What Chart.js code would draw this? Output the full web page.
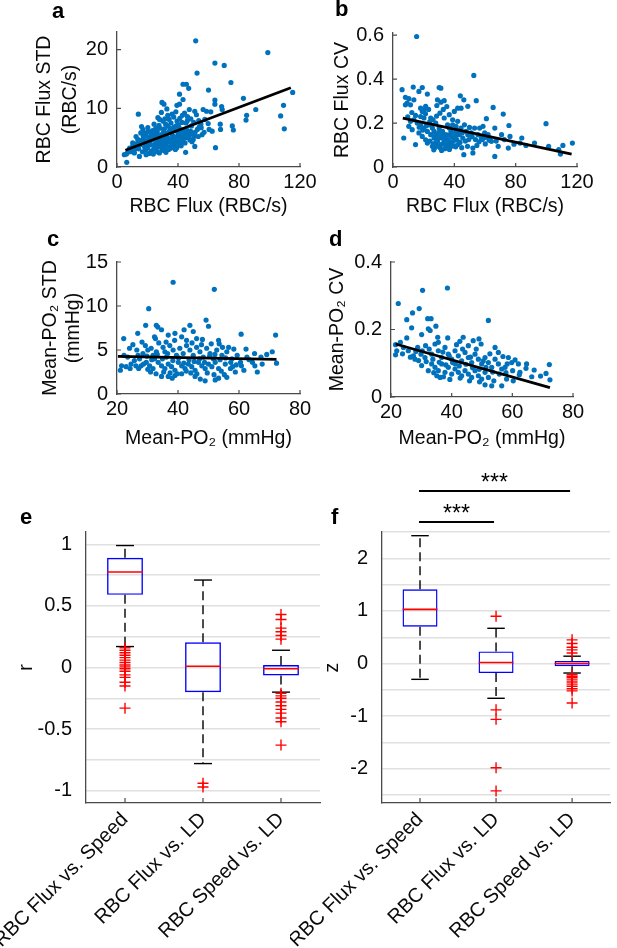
<!DOCTYPE html>
<html>
<head>
<meta charset="utf-8">
<script src="https://cdn.jsdelivr.net/npm/chart.js@4.4.0/dist/chart.umd.min.js"></script>
<style>
  html, body { margin: 0; padding: 0; background: #fff; }
  #fig { position: relative; width: 617px; height: 948px; overflow: hidden; background: #fff; }
  #fig canvas { position: absolute; }
  .lab { position: absolute; font: bold 22px 'Liberation Sans', Arial, sans-serif; line-height: 24px; color: #000; }
</style>
</head>
<body>
<div id="fig">
  <canvas id="panelA" width="330" height="222" style="left:0;top:0"></canvas>
  <canvas id="panelB" width="307" height="222" style="left:310px;top:0"></canvas>
  <canvas id="panelC" width="330" height="225" style="left:0;top:230px"></canvas>
  <canvas id="panelD" width="307" height="225" style="left:310px;top:230px"></canvas>
  <canvas id="panelE" width="330" height="478" style="left:0;top:470px"></canvas>
  <canvas id="panelF" width="327" height="488" style="left:290px;top:460px"></canvas>
  <div class="lab" style="left:52px;top:-1px">a</div>
  <div class="lab" style="left:335px;top:-3px">b</div>
  <div class="lab" style="left:47px;top:227px">c</div>
  <div class="lab" style="left:329px;top:227px">d</div>
  <div class="lab" style="left:20px;top:505px">e</div>
  <div class="lab" style="left:331px;top:505px">f</div>
</div>
<script>
const FONT = "'Liberation Sans', Arial, 'DejaVu Sans', sans-serif";
const BLUE = '#0072BD';
const AXIS = '#4a4a4a';

// a: RBC flux vs. RBC flux STD
const fluxStdPts = [
  [51.6,21.5],[98.9,19.5],[64.2,17.7],[70.3,17.3],[52.5,16.0],[74.7,14.4],[43.3,14.1],[45.5,14.1],[47.0,13.4],[115.2,12.7],
  [60.0,13.1],[82.9,11.7],[64.2,11.4],[91.0,9.8],[109.2,10.5],[107.3,8.7],[109.7,6.5],[85.0,8.8],[84.6,8.0],[75.6,7.0],
  [76.3,6.3],[64.6,3.3],[51.0,3.5],[45.0,2.5],[6.4,0.8],[14.0,9.0],[29.5,11.0],[30.8,10.7],[32.7,9.9],[41.0,10.7],
  [43.3,11.5],[41.0,12.4],[39.3,10.5],[51.0,9.5],[56.5,9.8],[58.7,9.5],[61.5,9.4],[68.6,10.3],[69.0,9.8],[64.2,10.7],
  [57.6,8.1],[59.8,7.4],[60.4,6.4],[62.4,6.1],[67.7,7.3],[67.9,6.4],[48.4,8.2],[46.2,8.6],[34.5,6.1],[26.8,8.4],
  [27.9,8.1],[20.2,6.7],[17.0,6.4],[13.6,4.7],[10.3,4.1],[8.1,3.0],[4.8,2.1],[11.4,2.4],[14.7,1.8],[19.1,2.1],
  [22.4,2.7],[25.7,3.0],[31.2,3.5],[35.6,4.1],[37.8,4.4],[40.0,5.3],[42.2,6.1],[45.5,6.4],[48.8,7.0],[52.7,6.4],
  [55.0,7.3],[55.8,5.5],[50.0,4.7],[46.6,5.3],[20.3,4.5],[22.1,3.8],[23.6,5.2],[25.2,4.0],[26.4,6.0],[27.3,3.5],
  [28.1,4.8],[29.2,5.5],[30.4,4.2],[31.1,6.5],[32.3,3.9],[33.2,5.0],[34.1,4.4],[35.3,5.8],[36.2,3.6],[37.4,6.8],
  [38.1,5.1],[39.3,4.6],[40.2,7.2],[41.4,5.5],[42.3,4.9],[43.1,6.3],[44.2,5.7],[45.3,7.5],[33.4,7.0],[30.2,7.8],
  [28.4,6.6],[25.1,5.6],[23.3,6.2],[21.2,5.0],[19.4,4.2],[18.1,3.4],[17.2,5.3],[16.3,4.6],[15.1,3.8],[14.2,3.1],
  [13.1,4.0],[12.2,3.4],[11.1,2.8],[10.4,3.6],[9.2,2.6],[8.3,3.2],[7.1,2.5],[6.2,2.2],[35.2,3.2],[38.3,3.0],
  [40.4,4.0],[42.1,3.6],[26.2,2.6],[29.4,2.9],[32.1,2.5],[36.3,4.8],[34.2,6.0],[31.3,5.3],[27.2,4.6],[24.1,3.1],
  [22.3,2.6],[20.1,3.3],[37.2,8.5],[39.4,7.8],[36.1,9.0],[33.3,8.8],[31.4,8.2],[29.1,9.3],[35.4,7.5],[41.2,8.3],
  [44.3,9.2],[46.1,7.9],[48.2,6.1],[50.3,7.6],[52.1,8.9],[53.3,5.2],[55.2,6.7],[57.1,5.9],[47.3,5.0],[49.2,4.3],
  [24.3,7.3],[20.4,6.0],[18.2,5.8],[16.1,6.9],[28.3,3.9],[30.1,3.4],[33.1,4.3],[36.4,5.4],[38.2,6.2],[40.1,5.8],
  [43.2,4.7],[45.1,5.0],[12.5,5.2],[15.6,5.8],[17.8,4.1],[19.7,3.7],[21.6,4.3],[23.1,4.7],[24.8,3.6],[26.1,5.1],
  [27.8,5.3],[29.7,4.5],[31.8,4.7],[33.6,3.4],[35.9,4.4],[37.6,3.9],[39.8,4.9],[41.8,4.3],[43.7,5.2],[46.4,6.0],
  [48.6,5.6],[51.2,5.9],[53.9,6.8],[30.6,6.0],[32.7,5.7],[34.8,6.6],[36.7,6.2],[38.8,7.0],[40.7,6.7],[42.6,7.6],
  [27.5,7.1],[25.4,6.6],[22.6,5.6],[19.2,5.3],[17.5,4.8],[15.3,4.4],[13.4,3.6],[11.8,3.1],[9.8,2.9],[16.7,2.6],
  [18.8,2.9],[21.1,2.3],[23.8,2.2],[27.8,2.4],[30.9,2.8],[33.9,3.0],[37.1,3.5],[39.2,3.3],[41.9,4.6],[44.6,4.1],
  [47.8,4.6],[50.9,5.3],[34.2,8.1],[38.6,9.4],[42.9,8.8],[47.4,9.8],[53.6,7.9],[31.9,7.3],[26.3,4.2],[24.5,4.9],
  [29.8,3.7],[35.1,4.6]
];
const fluxStdFit = [[5.5, 2.86], [114, 13.5]];
const fluxXTicks = [0, 40, 80, 120];
const fluxStdYTicks = [0, 10, 20];

// b: RBC flux vs. RBC flux CV
const fluxCvPts = [
  [15.4,0.594],[52.7,0.417],[5.9,0.352],[13.2,0.364],[19.1,0.362],[30.1,0.362],[31.2,0.359],[16.9,0.344],[22.4,0.332],[8.1,0.317],
  [10.3,0.311],[11.4,0.283],[9.2,0.291],[8.1,0.283],[13.6,0.306],[18.0,0.268],[20.2,0.26],[21.3,0.276],[19.1,0.253],[29.0,0.306],
  [31.2,0.295],[33.4,0.302],[28.6,0.28],[43.9,0.324],[46.2,0.306],[54.3,0.302],[42.2,0.268],[44.4,0.268],[48.8,0.276],[65.3,0.271],
  [71.9,0.241],[60.9,0.22],[99.8,0.197],[75.6,0.189],[7.0,0.132],[14.7,0.102],[27.9,0.109],[22.4,0.109],[46.2,0.056],[66.4,0.048],
  [52.1,0.086],[52.1,0.064],[84.0,0.132],[82.9,0.109],[92.3,0.109],[101.5,0.094],[108.1,0.079],[110.8,0.098],[117.0,0.109],[109.2,0.059],
  [75.2,0.086],[68.6,0.094],[64.2,0.117],[57.6,0.132],[59.8,0.155],[66.4,0.177],[70.8,0.147],[76.3,0.139],[49.9,0.18],[51.0,0.155],
  [45.5,0.132],[42.2,0.102],[40.0,0.132],[37.8,0.162],[35.6,0.192],[33.4,0.223],[36.7,0.238],[40.0,0.253],[24.6,0.223],[23.5,0.192],
  [25.7,0.177],[26.8,0.162],[29.0,0.147],[31.2,0.132],[33.4,0.117],[35.6,0.124],[29.0,0.117],[26.8,0.132],[24.6,0.147],[22.4,0.162],
  [20.2,0.177],[18.0,0.192],[15.8,0.2],[13.6,0.215],[11.4,0.208],[10.3,0.185],[12.5,0.17],[16.9,0.155],[19.1,0.139],[21.3,0.124],
  [30.1,0.177],[32.3,0.162],[34.5,0.147],[36.7,0.177],[38.9,0.192],[41.1,0.162],[43.3,0.147],[44.4,0.177],[46.6,0.192],[47.7,0.162],
  [48.8,0.147],[53.2,0.177],[55.4,0.147],[56.5,0.177],[58.7,0.185],[62.0,0.147],[63.1,0.132],[31.2,0.102],[34.5,0.094],[37.8,0.109],
  [25.7,0.094],[41.1,0.185],[42.2,0.208],[38.9,0.215],[27.9,0.2],[20.2,0.223],[18.0,0.23],[14.7,0.235],[28.3,0.128],[32.6,0.141],
  [36.2,0.121],[38.4,0.138],[30.5,0.152],[27.1,0.088],[33.8,0.083],[39.6,0.096],[24.1,0.118],[26.3,0.105],[28.7,0.095],[30.8,0.088],
  [32.9,0.108],[35.2,0.101],[37.3,0.091],[39.4,0.118],[41.6,0.125],[43.7,0.112],[27.6,0.142],[29.9,0.158],[32.1,0.135],[34.2,0.128],
  [36.4,0.145],[38.5,0.152],[40.7,0.142],[42.9,0.166],[45.1,0.155],[47.2,0.118],[49.4,0.125],[51.6,0.138],[53.8,0.125],[56.1,0.115],
  [58.3,0.125],[60.5,0.135],[62.7,0.122],[17.1,0.181],[19.4,0.168],[21.7,0.188],[23.9,0.205],[26.1,0.215],[28.4,0.232],[30.6,0.245],
  [32.8,0.262],[35.1,0.275],[21.2,0.242],[23.2,0.262],[12.3,0.248],[9.6,0.228],[26.6,0.078],[31.7,0.075],[36.8,0.08],[40.9,0.092],
  [44.8,0.088],[48.6,0.094],[54.7,0.098],[60.2,0.105],[67.3,0.118],[72.6,0.125],[78.9,0.104],[86.7,0.098]
];
const fluxCvFit = [[6.4, 0.223], [116.5, 0.059]];
const fluxCvYTicks = [0, 0.2, 0.4, 0.6];

// c: mean PO2 vs. PO2 STD
const po2StdPts = [
  [38.4,12.7],[51.9,11.9],[30.4,9.7],[49.2,8.4],[50.0,7.7],[29.4,7.8],[32.9,7.8],[33.4,7.6],[34.6,7.3],[43.9,7.8],
  [42.0,7.3],[45.0,7.1],[26.8,6.9],[32.3,6.5],[32.6,6.3],[22.2,6.3],[60.7,6.8],[72.0,6.7],[25.2,5.6],[36.8,6.7],
  [39.0,6.9],[41.2,6.5],[42.8,6.1],[46.1,6.3],[48.0,6.2],[53.3,6.1],[53.5,5.7],[54.6,5.3],[56.6,5.3],[58.3,5.1],
  [62.3,5.1],[70.9,4.8],[21.5,3.2],[23.0,3.1],[21.1,2.7],[27.4,4.0],[27.9,3.2],[27.1,2.9],[31.0,2.5],[34.6,2.0],
  [36.8,2.0],[39.0,2.1],[41.2,2.3],[45.6,2.0],[48.9,1.5],[52.2,1.6],[53.3,1.8],[56.0,1.9],[60.8,3.2],[61.6,2.7],
  [65.2,3.2],[66.0,2.5],[72.3,3.5],[29.3,5.5],[30.1,5.0],[28.5,4.6],[31.2,5.2],[31.8,4.4],[32.9,4.8],[35.1,5.3],
  [35.7,4.8],[36.2,4.2],[37.3,5.5],[38.4,5.0],[39.5,4.4],[40.6,5.2],[41.7,4.6],[42.8,5.5],[43.9,5.0],[45.0,4.4],
  [46.1,5.3],[47.2,4.8],[48.3,4.2],[49.4,5.2],[50.5,4.6],[51.6,4.0],[52.7,5.0],[54.4,4.4],[56.0,4.8],[57.7,4.0],
  [59.4,4.4],[60.5,3.6],[33.5,3.6],[34.6,3.2],[35.7,2.9],[36.8,3.4],[37.9,3.1],[39.0,2.7],[40.1,3.6],[41.2,3.2],
  [42.3,2.9],[43.4,3.4],[44.5,3.1],[45.6,2.7],[46.7,3.6],[47.8,3.2],[48.9,2.9],[50.0,3.4],[51.1,3.1],[25.7,3.8],
  [24.6,3.4],[23.5,4.2],[29.6,3.6],[30.7,3.2],[31.8,2.9],[32.3,4.0],[55.5,3.4],[57.2,2.9],[58.8,2.5],[52.2,3.6],
  [53.3,2.9],[65.1,4.6],[67.2,4.2],[63.3,3.9],[69.1,4.5],[44.2,2.4],[38.1,1.8],[47.3,1.7],[55.2,2.2],[26.9,4.4],
  [24.1,5.2],[22.3,4.4],[26.2,3.2],[29.8,4.3],[31.4,3.9],[33.2,4.5],[34.9,4.0],[36.6,4.6],[38.3,3.8],[40.2,4.1],
  [41.9,3.5],[43.6,3.9],[45.3,3.7],[47.1,4.0],[48.7,3.6],[50.4,4.3],[52.1,4.5],[53.8,3.9],[55.6,4.1],[57.3,3.6],
  [59.1,3.3],[35.3,2.5],[37.4,2.4],[39.8,2.3],[42.7,2.6],[46.2,2.3],[49.6,2.4],[51.8,2.2],[54.2,2.6],[57.9,3.1],
  [62.6,4.2],[64.4,3.6],[67.6,3.4],[33.7,5.8],[36.1,5.9],[38.9,6.1],[44.6,5.8],[47.7,5.6],[50.9,5.7],[28.7,3.4],
  [30.1,2.8],[32.8,2.3],[24.3,2.9],[26.5,5.0],[28.2,5.9]
];
const po2StdFit = [[20.3, 4.27], [72.3, 3.93]];
const po2XTicks = [20, 40, 60, 80];
const po2StdYTicks = [0, 5, 10, 15];

// d: mean PO2 vs. PO2 CV
const po2CvPts = [
  [22.4,0.277],[30.4,0.316],[38.6,0.323],[29.3,0.262],[27.1,0.249],[25.2,0.229],[26.8,0.205],[52.1,0.227],[32.1,0.232],[33.2,0.232],
  [32.3,0.202],[32.9,0.197],[34.8,0.21],[30.1,0.185],[25.2,0.175],[21.5,0.155],[21.9,0.137],[21.5,0.125],[35.4,0.177],[35.6,0.162],
  [38.7,0.175],[43.8,0.177],[42.7,0.165],[41.6,0.155],[49.0,0.172],[49.7,0.157],[60.9,0.11],[72.2,0.096],[71.1,0.07],[72.4,0.051],
  [66.4,0.06],[62.5,0.073],[64.7,0.098],[56.5,0.033],[53.2,0.033],[51.0,0.036],[60.3,0.048],[58.1,0.053],[35.1,0.063],[37.3,0.06],
  [32.3,0.078],[30.1,0.093],[27.4,0.122],[27.9,0.112],[29.9,0.127],[31.2,0.117],[33.4,0.127],[35.6,0.137],[36.7,0.117],[37.8,0.147],
  [38.9,0.127],[40.0,0.112],[41.1,0.137],[42.2,0.122],[43.3,0.107],[44.4,0.132],[45.5,0.117],[46.6,0.102],[47.7,0.127],[48.8,0.112],
  [49.9,0.098],[51.0,0.117],[52.1,0.102],[53.2,0.088],[54.3,0.112],[55.4,0.098],[56.5,0.083],[57.6,0.088],[33.4,0.098],[34.5,0.088],
  [35.6,0.078],[36.7,0.098],[37.8,0.073],[38.9,0.088],[40.0,0.068],[41.1,0.083],[42.2,0.073],[43.3,0.063],[44.4,0.078],[45.5,0.068],
  [46.6,0.058],[47.7,0.078],[48.8,0.063],[49.9,0.053],[51.0,0.073],[52.1,0.058],[25.7,0.137],[24.1,0.147],[28.8,0.147],[31.4,0.152],
  [34.5,0.157],[45.5,0.152],[47.1,0.167],[54.3,0.147],[55.4,0.132],[58.7,0.117],[59.8,0.102],[62.0,0.098],[31.6,0.105],[33.8,0.112],
  [35.9,0.103],[38.1,0.095],[40.3,0.102],[42.5,0.092],[44.7,0.097],[46.9,0.087],[49.1,0.082],[51.3,0.088],[53.5,0.074],[55.7,0.068],
  [57.9,0.072],[60.1,0.078],[62.3,0.066],[64.5,0.085],[67.2,0.08],[69.3,0.062],[39.2,0.122],[43.6,0.142],[48.1,0.142],[52.6,0.128],
  [56.9,0.12],[29.1,0.108],[28.2,0.135],[26.4,0.118],[23.8,0.128],[23.1,0.162],[34.1,0.072],[36.2,0.058],[39.4,0.052],[42.8,0.056],
  [45.9,0.048],[49.2,0.045],[53.9,0.048],[41.2,0.098],[37.1,0.133],[32.6,0.142],[30.3,0.137],[46.2,0.118],[50.4,0.107],[58.3,0.098]
];
const po2CvFit = [[21.5, 0.157], [72.4, 0.028]];
const po2CvYTicks = [0, 0.2, 0.4];

// e, f: box plots
const boxLabels = ['RBC Flux vs. Speed', 'RBC Flux vs. LD', 'RBC Speed vs. LD'];

const rLow = [0.17, -0.78, -0.20];
const rQ1 = [0.59, -0.20, -0.065];
const rMed = [0.775, 0.01, -0.01];
const rQ3 = [0.89, 0.205, 0.02];
const rHigh = [0.99, 0.71, 0.14];
const rOut = [
  [0.16, 0.14, 0.12, 0.10, 0.08, 0.06, 0.04, 0.02, 0.005, -0.01, -0.03, -0.06, -0.08, -0.12, -0.15, -0.33],
  [-0.94, -0.97],
  [0.43, 0.39, 0.32, 0.29, 0.26, 0.23, -0.21, -0.23, -0.25, -0.28, -0.31, -0.34, -0.37, -0.41, -0.44, -0.63]
];
const rGrid = [-1, -0.75, -0.5, -0.25, 0, 0.25, 0.5, 0.75, 1];

const zLow = [-0.30, -0.66, -0.18];
const zQ1 = [0.70, -0.18, -0.05];
const zMed = [1.03, 0.02, 0.0];
const zQ3 = [1.41, 0.23, 0.05];
const zHigh = [2.43, 0.67, 0.14];
const zOut = [
  [],
  [0.9, -0.88, -1.06, -1.98, -2.42],
  [0.45, 0.38, 0.31, 0.26, 0.2, -0.21, -0.24, -0.27, -0.31, -0.35, -0.39, -0.43, -0.48, -0.52, -0.75]
];
const zGrid = [-2.5, -2, -1.5, -1, -0.5, 0, 0.5, 1, 1.5, 2, 2.5];

const sigPairs = [[0, 2], [0, 1]];
const sigText = ['***', '***'];

Chart.defaults.font.family = FONT;
Chart.defaults.font.size = 19.5;
Chart.defaults.color = '#0a0a0a';

// small inward tick marks, MATLAB style
const inTicks = {
  id: 'inTicks',
  afterDraw(chart, args, o) {
    const { ctx, chartArea: ca } = chart;
    ctx.save();
    ctx.strokeStyle = AXIS;
    ctx.lineWidth = 1.2;
    ctx.beginPath();
    ['x', 'y'].forEach(k => {
      if (!o[k]) return;
      const s = chart.scales[k];
      s.ticks.forEach((t, i) => {
        const p = s.getPixelForTick(i);
        if (k === 'x') { ctx.moveTo(p, ca.bottom); ctx.lineTo(p, ca.bottom - o.len); }
        else { ctx.moveTo(ca.left, p); ctx.lineTo(ca.left + o.len, p); }
      });
    });
    ctx.stroke();
    ctx.restore();
  }
};

function tickList(arr) {
  return s => { s.ticks = arr.map(v => ({ value: v })); };
}

function scatterPanel(id, pts, fit, xr, yr, xt, yt, lay) {
  return new Chart(document.getElementById(id), {
    type: 'scatter',
    data: {
      datasets: [
        { type: 'line', data: fit.map(([x, y]) => ({ x, y })), borderColor: '#000', borderWidth: 2.8, pointRadius: 0, order: 1 },
        { data: pts.map(([x, y]) => ({ x, y })), backgroundColor: BLUE, pointRadius: 2.6, borderWidth: 0, order: 2 }
      ]
    },
    options: {
      responsive: false, animation: false, events: [],
      layout: { padding: lay.pad },
      plugins: { legend: { display: false }, tooltip: { enabled: false }, inTicks: { x: true, y: true, len: 4 } },
      scales: {
        x: {
          type: 'linear', min: xr[0], max: xr[1],
          afterBuildTicks: tickList(xt),
          afterFit: s => { s.height = lay.xh; s.paddingLeft = 0; s.paddingRight = 0; },
          grid: { drawOnChartArea: false, drawTicks: false },
          border: { display: true, color: AXIS, width: 1.3 },
          ticks: { padding: 3, maxRotation: 0, autoSkip: false, font: { size: 20 } },
          title: { display: true, text: lay.xTitle, padding: { top: 0, bottom: lay.xtb } }
        },
        y: {
          type: 'linear', min: yr[0], max: yr[1],
          afterBuildTicks: tickList(yt),
          afterFit: s => { s.width = lay.yw; s.paddingTop = 0; s.paddingBottom = 0; },
          grid: { drawOnChartArea: false, drawTicks: false },
          border: { display: true, color: AXIS, width: 1.3 },
          ticks: { padding: 9, autoSkip: false, font: { size: 20 } },
          title: { display: true, text: lay.yTitle, font: { lineHeight: lay.ylh || 1.2 }, padding: { top: lay.ytp, bottom: 0 } }
        }
      }
    },
    plugins: [inTicks]
  });
}

function makeWhiskers(low, q1, med, q3, high) {
  return {
    id: 'whiskers',
    afterDatasetDraw(chart, args) {
      if (args.index !== 0) return;
      const { ctx } = chart;
      const y = chart.scales.y;
      const seg = (x1, y1, x2, y2) => { ctx.beginPath(); ctx.moveTo(x1, y1); ctx.lineTo(x2, y2); ctx.stroke(); };
      args.meta.data.forEach((bar, i) => {
        const { x: cx, width } = bar.getProps(['x', 'width'], true);
        const hw = width / 2;
        ctx.save();
        ctx.strokeStyle = '#000';
        ctx.lineWidth = 1.4;
        ctx.setLineDash([9, 5]);
        seg(cx, y.getPixelForValue(q3[i]), cx, y.getPixelForValue(high[i]));
        seg(cx, y.getPixelForValue(q1[i]), cx, y.getPixelForValue(low[i]));
        ctx.setLineDash([]);
        seg(cx - hw / 2, y.getPixelForValue(high[i]), cx + hw / 2, y.getPixelForValue(high[i]));
        seg(cx - hw / 2, y.getPixelForValue(low[i]), cx + hw / 2, y.getPixelForValue(low[i]));
        ctx.strokeStyle = '#ff0000';
        ctx.lineWidth = 1.6;
        seg(cx - hw, y.getPixelForValue(med[i]), cx + hw, y.getPixelForValue(med[i]));
        ctx.restore();
      });
    }
  };
}

function makeSigBars(pairs, texts, rise) {
  return {
    id: 'sigBars',
    afterDraw(chart) {
      const { ctx, chartArea } = chart;
      const x = chart.scales.x;
      ctx.save();
      ctx.strokeStyle = '#000';
      ctx.fillStyle = '#000';
      ctx.lineWidth = 1.8;
      ctx.font = '23px ' + FONT;
      ctx.textAlign = 'center';
      ctx.textBaseline = 'alphabetic';
      pairs.forEach(([a, b], k) => {
        const x1 = x.getPixelForValue(a) - 1;
        const x2 = x.getPixelForValue(b) - 2;
        const yy = chartArea.top - rise[k];
        ctx.beginPath(); ctx.moveTo(x1, yy); ctx.lineTo(x2, yy); ctx.stroke();
        ctx.fillText(texts[k], (x1 + x2) / 2, yy - 1);
      });
      ctx.restore();
    }
  };
}

function boxPanel(id, low, q1, med, q3, high, out, yr, grid, labelEvery, lay, extra) {
  const outPts = [];
  out.forEach((arr, i) => arr.forEach(v => outPts.push({ x: boxLabels[i], y: v })));
  return new Chart(document.getElementById(id), {
    type: 'bar',
    data: {
      labels: boxLabels,
      datasets: [
        { data: q1.map((v, i) => [v, q3[i]]), backgroundColor: 'rgba(0,0,0,0)', borderColor: '#0000ff',
          borderWidth: 1.4, borderSkipped: false, barPercentage: 0.46, categoryPercentage: 1, order: 2 },
        { type: 'scatter', data: outPts, pointStyle: 'cross', pointRadius: 5.5, borderColor: '#ff0000',
          backgroundColor: '#ff0000', borderWidth: 1.4, order: 1 }
      ]
    },
    options: {
      responsive: false, animation: false, events: [],
      layout: { padding: lay.pad },
      plugins: { legend: { display: false }, tooltip: { enabled: false }, inTicks: { x: true, y: false, len: 5 } },
      scales: {
        x: {
          type: 'category',
          afterFit: s => { s.height = lay.xh; s.paddingLeft = 0; s.paddingRight = 0; },
          grid: { drawOnChartArea: false, drawTicks: false },
          border: { display: true, color: AXIS, width: 1.3 },
          ticks: { padding: 5, minRotation: 45, maxRotation: 45, autoSkip: false, font: { size: 20 } }
        },
        y: {
          type: 'linear', min: yr[0], max: yr[1],
          afterBuildTicks: tickList(grid),
          afterFit: s => { s.width = lay.yw; s.paddingTop = 0; s.paddingBottom = 0; },
          grid: { color: '#e0e0e0', lineWidth: 1.4, drawTicks: false },
          border: { display: true, color: AXIS, width: 1.3 },
          ticks: {
            padding: 14, autoSkip: false, font: { size: 20 },
            callback: v => (Math.abs(v / labelEvery - Math.round(v / labelEvery)) < 1e-6 ? String(v) : '')
          },
          title: { display: true, text: lay.yTitle, padding: { top: lay.ytp, bottom: 0 } }
        }
      }
    },
    plugins: [inTicks, makeWhiskers(low, q1, med, q3, high)].concat(extra || [])
  });
}

scatterPanel('panelA', fluxStdPts, fluxStdFit, [0, 120], [0, 23], fluxXTicks, fluxStdYTicks, {
  pad: { top: 32, right: 30, left: 0, bottom: 0 }, xh: 55, yw: 117,
  xTitle: 'RBC Flux (RBC/s)', xtb: 4, yTitle: ['RBC Flux STD', '(RBC/s)'], ylh: 1.333, ytp: 32
});
scatterPanel('panelB', fluxCvPts, fluxCvFit, [0, 120], [0, 0.61], fluxXTicks, fluxCvYTicks, {
  pad: { top: 33, right: 40, left: 0, bottom: 0 }, xh: 55, yw: 83,
  xTitle: 'RBC Flux (RBC/s)', xtb: 4, yTitle: 'RBC Flux CV', ytp: 21
});
scatterPanel('panelC', po2StdPts, po2StdFit, [20, 80], [0, 15], po2XTicks, po2StdYTicks, {
  pad: { top: 32, right: 30, left: 0, bottom: 0 }, xh: 61, yw: 117,
  xTitle: 'Mean-PO\u2082 (mmHg)', xtb: 5, yTitle: ['Mean-PO\u2082 STD', '(mmHg)'], ylh: 1.2, ytp: 39
});
scatterPanel('panelD', po2CvPts, po2CvFit, [20, 80], [0, 0.4], po2XTicks, po2CvYTicks, {
  pad: { top: 32, right: 44, left: 0, bottom: 0 }, xh: 58, yw: 81,
  xTitle: 'Mean-PO\u2082 (mmHg)', xtb: 5, yTitle: 'Mean-PO\u2082 CV', ytp: 16
});
boxPanel('panelE', rLow, rQ1, rMed, rQ3, rHigh, rOut, [-1.1, 1.1], rGrid, 0.5, {
  pad: { top: 62, right: 10, left: 0, bottom: 0 }, xh: 145, yw: 86, yTitle: 'r', ytp: 15
});
boxPanel('panelF', zLow, zQ1, zMed, zQ3, zHigh, zOut, [-2.65, 2.5], zGrid, 1, {
  pad: { top: 72, right: 2, left: 0, bottom: 0 }, xh: 145, yw: 92, yTitle: 'z', ytp: 31
}, [makeSigBars(sigPairs, sigText, [41, 10])]);
</script>
</body>
</html>
